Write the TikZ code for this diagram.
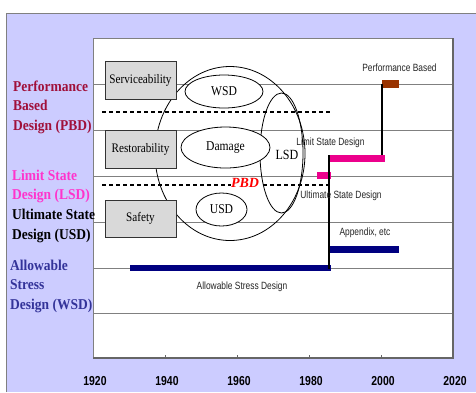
\documentclass[tikz,border=0pt]{standalone}
\usepackage{fontspec}
\setmainfont{Liberation Serif}
\setsansfont{Liberation Sans}
\newfontfamily\lblfont[FakeStretch=0.9]{Liberation Serif}
\newfontfamily\boxfont[FakeStretch=0.86]{Liberation Serif}
\newfontfamily\yearfont[FakeStretch=0.8]{Liberation Sans}
\newfontfamily\smallfont[FakeStretch=0.8]{Liberation Sans}
\usetikzlibrary{shapes.geometric}
\definecolor{lav}{HTML}{CCCCFF}
\definecolor{pbdcol}{HTML}{A0103A}
\definecolor{lsdcol}{HTML}{FF33CC}
\definecolor{wsdcol}{HTML}{333399}
\definecolor{navybar}{HTML}{000080}
\definecolor{brownbar}{HTML}{993300}
\definecolor{boxgray}{HTML}{D9D9D9}
\tikzset{
  gridline/.style={draw=gray, line width=0.7pt},
  stepbox/.style={draw=black!80, fill=boxgray, line width=0.8pt, minimum width=71pt, minimum height=38pt, inner sep=0pt, font=\boxfont\fontsize{13}{13}\selectfont},
  ell/.style={ellipse, draw=black, fill=white, line width=0.8pt, inner sep=0pt, font=\boxfont\fontsize{13.5}{13.5}\selectfont},
  sidelbl/.style={anchor=base west, inner sep=0pt, font=\lblfont\bfseries\fontsize{15}{15}\selectfont},
  yearlbl/.style={anchor=base, inner sep=0pt, font=\yearfont\bfseries\fontsize{13}{13}\selectfont},
  smalllbl/.style={anchor=base, inner sep=0pt, text=black!85, font=\smallfont\fontsize{10.5}{10.5}\selectfont},
  dashline/.style={draw=black, line width=1.2pt, dash pattern=on 4pt off 3pt},
  vline/.style={draw=black, line width=2pt}
}
\begin{document}
\begin{tikzpicture}[x=1pt,y=-1pt]
\useasboundingbox (0,0) rectangle (476,392);
\fill[white] (0,0) rectangle (476,392);
\fill[lav] (6,13) rectangle (476,392);
\draw[gray, line width=1pt] (6,392) -- (6,13) -- (476,13);
% plot area
\fill[white] (93,38) rectangle (453,358);
\foreach \y in {84,130,176,222,268,313} \draw[gridline] (93,\y) -- (453,\y);
\draw[gray, line width=1pt] (93,358) -- (93,38) -- (453,38);
\draw[gray!80!black, line width=1.6pt] (453,38) -- (453,358) -- (93,358);
\foreach \x in {165,237,309,381} \draw[gray!80!black, line width=0.8pt] (\x,358) -- (\x,355);
% big circle and LSD ellipse
\draw[line width=0.8pt] (230,153.5) ellipse [x radius=75, y radius=87];
\draw[line width=0.8pt] (281.5,153) ellipse [x radius=21.5, y radius=60];
\node[ell, minimum width=78pt, minimum height=33pt] (wsd) at (224,91.5) {WSD};
\node[ell, minimum width=89pt, minimum height=41pt] (dmg) at (225.5,147.5) {Damage};
\node[ell, minimum width=51pt, minimum height=33pt] (usd) at (221.5,209.5) {USD};
\node[inner sep=0pt, font=\boxfont\fontsize{14}{14}\selectfont] (lsd) at (287,155) {LSD};
% dashed lines
\coordinate (d1a) at (102,112); \coordinate (d1b) at (332,112);
\coordinate (d2a) at (102,185); \coordinate (d2b) at (332,185);
\draw[dashline] (d1a) -- (d1b);
\draw[dashline] (d2a) -- (d2b);
\node[inner sep=0.5pt, fill=white, text=red, font=\bfseries\itshape\fontsize{14}{14}\selectfont] (pbd) at (245,183) {PBD};
% boxes
\node[stepbox] (serv) at (140.5,80) {Serviceability};
\node[stepbox] (rest) at (140.5,149) {Restorability};
\node[stepbox, minimum height=37pt] (safe) at (140.5,218.5) {Safety};
% bars
\coordinate (asdA) at (130,268); \coordinate (asdB) at (331,268);
\coordinate (appA) at (329,249.5); \coordinate (appB) at (399,249.5);
\coordinate (lsdA) at (329,158); \coordinate (lsdB) at (385,158);
\coordinate (lsmA) at (317,175.5); \coordinate (lsmB) at (331,175.5);
\coordinate (pbA) at (382,84); \coordinate (pbB) at (399,84);
\draw[navybar, line width=6.5pt] (asdA) -- (asdB);
\draw[navybar, line width=7pt] (appA) -- (appB);
\draw[magenta, line width=7pt] (lsdA) -- (lsdB);
\draw[magenta, line width=7pt] (lsmA) -- (lsmB);
\draw[brownbar, line width=8pt] (pbA) -- (pbB);
\coordinate (v1a) at (329,155); \coordinate (v1b) at (329,269);
\coordinate (v2a) at (382,84); \coordinate (v2b) at (382,155);
\draw[vline] (v1a) -- (v1b);
\draw[vline] (v2a) -- (v2b);
% small labels
\node[smalllbl] (tpb) at (399.5,71) {Performance Based};
\node[smalllbl] (tlsd) at (330.5,145) {Limit State Design};
\node[smalllbl] (tusd) at (341,198) {Ultimate State Design};
\node[smalllbl] (tapp) at (365,235) {Appendix, etc};
\node[smalllbl] (tasd) at (242,289) {Allowable Stress Design};
% side labels
\node[sidelbl, text=pbdcol] (p1) at (13,91) {Performance};
\node[sidelbl, text=pbdcol] (p2) at (13,110) {Based};
\node[sidelbl, text=pbdcol] (p3) at (13,130) {Design (PBD)};
\node[sidelbl, text=lsdcol] (l1) at (12,180) {Limit State};
\node[sidelbl, text=lsdcol] (l2) at (12,199.5) {Design (LSD)};
\node[sidelbl, text=black] (u1) at (12,219) {Ultimate State};
\node[sidelbl, text=black] (u2) at (12,239) {Design (USD)};
\node[sidelbl, text=wsdcol] (w1) at (10,270) {Allowable};
\node[sidelbl, text=wsdcol] (w2) at (10,289.5) {Stress};
\node[sidelbl, text=wsdcol] (w3) at (10,309) {Design (WSD)};
% years
\node[yearlbl] (y1) at (95,385) {1920};
\node[yearlbl] (y2) at (167,385) {1940};
\node[yearlbl] (y3) at (239,385) {1960};
\node[yearlbl] (y4) at (311,385) {1980};
\node[yearlbl] (y5) at (383,385) {2000};
\node[yearlbl] (y6) at (455,385) {2020};
\end{tikzpicture}
\end{document}
